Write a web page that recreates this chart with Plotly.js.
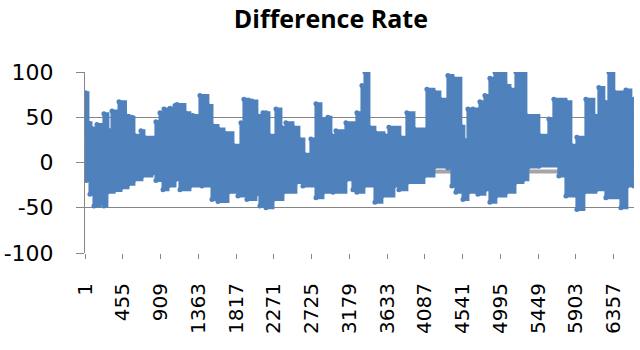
<!DOCTYPE html>
<html>
<head>
<meta charset="utf-8">
<script src="https://cdn.plot.ly/plotly-3.0.1.min.js"></script>
<style>html,body{margin:0;padding:0;background:#fff;}#chart{width:640px;height:350px;}</style>
</head>
<body>
<div id="chart"></div>
<script>
// Category count and tick labels
var categoryCount = 6600;
var tickLabels = [1, 455, 909, 1363, 1817, 2271, 2725, 3179, 3633, 4087, 4541, 4995, 5449, 5903, 6357];
var yTicks = [-100, -50, 0, 50, 100];

// Upper envelope of the blue series (category index, value)
var upperIdx = [1, 6, 36, 72, 144, 228, 276, 325, 409, 487, 529, 565, 589, 673, 709, 853, 902, 950, 1022,
  1082, 1106, 1202, 1262, 1298, 1382, 1478, 1527, 1599, 1671, 1779, 1875, 1911, 1971, 2007, 2067, 2140,
  2176, 2212, 2296, 2356, 2416, 2500, 2572, 2632, 2716, 2777, 2837, 2921, 2957, 3017, 3137,
  3269, 3330, 3366, 3414, 3486, 3594, 3654, 3786, 3870, 3955, 4111, 4195, 4267,
  4363, 4423, 4519, 4556, 4604, 4664, 4748, 4808, 4868, 4928, 5060, 5109, 5181, 5241, 5301,
  5457, 5577, 5637, 5782, 5842, 5914, 6022, 6118, 6178, 6238, 6298, 6358, 6503, 6563, 6600];
var upperVal = [30, 77, 44, 38, 42, 54, 36, 57, 67, 52, 22, 50, 30, 35, 28, 45, 55, 59, 60,
  63, 64, 55, 48, 52, 74, 63, 41, 37, 33, 19, 44, 70, 41, 68, 52, 55,
  55, 30, 59, 39, 44, 39, 26, 9, 26, 65, 48, 50, 30, 35, 44,
  55, 85, 100, 39, 33, 30, 39, 28, 55, 37, 81, 78, 70,
  96, 93, 40, 25, 59, 59, 67, 74, 93, 100, 85, 81, 100, 100, 52,
  30, 48, 70, 67, 19, 28, 70, 52, 83, 67, 100, 78, 80, 70, 70];

// Lower envelope of the blue series (category index, value)
var lowerIdx = [1, 18, 60, 108, 180, 228, 264, 349, 433, 517, 589, 685, 805, 853, 938, 998,
  1082, 1142, 1262, 1406, 1527, 1599, 1719, 1839, 1947, 2055, 2103,
  2176, 2260, 2380, 2536, 2620, 2777, 2861, 2981, 3137, 3221,
  3269, 3353, 3486, 3570, 3714, 3774, 3870, 4075, 4195, 4363, 4411,
  4459, 4544, 4604, 4724, 4808, 4868, 4940, 5060, 5169, 5265, 5325,
  5457, 5697, 5782, 5914, 5998, 6142, 6262, 6443, 6515, 6600];
var lowerVal = [-5, -20, -35, -48, -45, -48, -33, -31, -28, -24, -19, -15, -12, -20, -30, -26,
  -19, -30, -26, -26, -41, -43, -33, -37, -41, -35, -48,
  -50, -41, -33, -22, -26, -39, -33, -33, -19, -30,
  -33, -26, -44, -37, -26, -30, -22, -15, -5, -6, -26,
  -33, -41, -33, -35, -30, -44, -37, -33, -22, -19, -5,
  -4, -15, -37, -52, -33, -30, -39, -50, -26, -26];

// Gray series, visible only where the blue band lies above it
var grayIdx = [4195, 4411, null, 5325, 5710];
var grayVal = [-10, -10, null, -10, -10];

var blue = '#4F81BD';
var traces = [
  {x: grayIdx, y: grayVal, mode: 'lines', line: {color: '#A5A5A5', width: 4}, connectgaps: false, hoverinfo: 'skip'},
  {x: lowerIdx, y: lowerVal, mode: 'lines+markers', marker: {color: blue, size: 5}, line: {color: blue, width: 3, shape: 'hv'}, hoverinfo: 'skip'},
  {x: upperIdx, y: upperVal, mode: 'lines+markers', marker: {color: blue, size: 5}, fill: 'tonexty', fillcolor: blue, line: {color: blue, width: 3, shape: 'hv'}, hoverinfo: 'skip'}
];

var layout = {
  width: 640, height: 350,
  margin: {l: 85, r: 6, t: 72, b: 97},
  paper_bgcolor: '#fff', plot_bgcolor: '#fff',
  showlegend: false,
  title: {text: '<b>Difference Rate</b>', x: 0.517, xanchor: 'center', y: 0.945, yanchor: 'middle',
    font: {family: 'Open Sans, sans-serif', size: 25, color: '#000'}},
  xaxis: {
    range: [0.5, categoryCount + 0.5],
    tickmode: 'array', tickvals: tickLabels, ticktext: tickLabels.map(String),
    tickangle: -90, ticks: 'outside', ticklen: 5, tickcolor: '#868686', ticklabelstandoff: 16,
    showline: false, showgrid: false, zeroline: false,
    tickfont: {family: 'DejaVu Sans, sans-serif', size: 20, color: '#000'}
  },
  yaxis: {
    range: [-100, 100], tickmode: 'array', tickvals: yTicks, ticktext: yTicks.map(String),
    ticks: 'outside', ticklen: 8, tickcolor: '#868686', ticklabelstandoff: 18,
    showline: true, linecolor: '#868686', linewidth: 1,
    showgrid: true, gridcolor: '#868686', gridwidth: 1, zeroline: false,
    tickfont: {family: 'DejaVu Sans, sans-serif', size: 22, color: '#000'}
  }
};

Plotly.newPlot('chart', traces, layout, {displayModeBar: false, staticPlot: true});
</script>
</body>
</html>
